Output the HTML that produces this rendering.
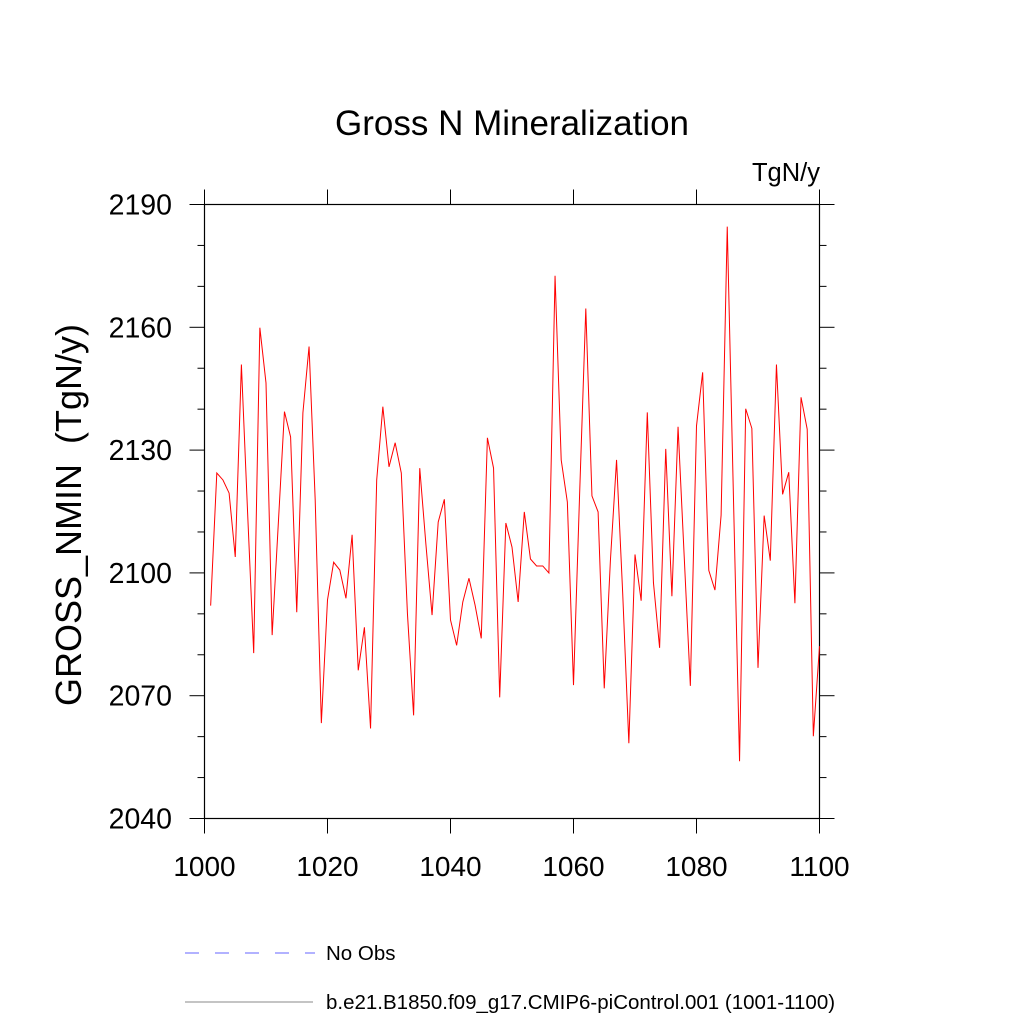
<!DOCTYPE html>
<html><head><meta charset="utf-8"><style>
body{margin:0;background:#fff;}
svg{display:block;font-family:"Liberation Sans",sans-serif;}
</style></head><body>
<svg id="chart" width="1024" height="1024">
<text x="512" y="135" font-size="35" text-anchor="middle">Gross N Mineralization</text>
<text x="820" y="181" font-size="25.5" text-anchor="end">TgN/y</text>
<text transform="translate(81,515) rotate(-90)" font-size="36" text-anchor="middle">GROSS_NMIN&#160;&#160;(TgN/y)</text>
<g id="axes"></g>
<g id="series"></g>
<line x1="185" y1="953" x2="315" y2="953" stroke="#6666ff" stroke-width="1" stroke-dasharray="14,16"/>
<text x="326" y="960" font-size="20.5">No Obs</text>
<line x1="185" y1="1002" x2="313" y2="1002" stroke="#888" stroke-width="1"/>
<text x="326" y="1009" font-size="20.5">b.e21.B1850.f09_g17.CMIP6-piControl.001 (1001-1100)</text>
</svg>
<script>
const years=[];for(let y=1001;y<=1100;y++)years.push(y);
const values=[2092,2124.4,2122.7,2119.5,2103.9,2150.9,2115,2080.4,2159.9,2146.4,
2084.8,2112,2139.4,2133.2,2090.4,2139.1,2155.3,2117.8,2063.3,2093.4,
2102.6,2100.7,2093.8,2109.3,2076.2,2086.7,2062,2122.7,2140.6,2125.9,
2131.8,2124.4,2090,2065.2,2125.6,2107,2089.7,2112.4,2118,2088.5,
2082.3,2092.9,2098.7,2092.1,2084,2133,2125.6,2069.6,2112.2,2106.3,
2092.9,2114.9,2103.4,2101.7,2101.7,2100,2172.6,2127.6,2117.3,2072.6,
2119.5,2164.6,2118.8,2114.9,2071.8,2103,2127.6,2095,2058.4,2104.5,
2093.2,2139.2,2097.6,2081.7,2130.3,2094.3,2135.7,2104,2072.4,2135.9,
2149,2100.6,2095.8,2114.1,2184.6,2119,2054,2140.1,2135.3,2076.8,
2114,2103,2150.9,2119.2,2124.6,2092.6,2142.9,2135.1,2060.1,2082.1];
const xTicks=[1000,1020,1040,1060,1080,1100];
const yTicks=[2040,2070,2100,2130,2160,2190];
const L=204.5,R=819.5,T=204.5,B=818.5;
const xs=v=>L+(v-1000)/100*(R-L);
const ys=v=>B-(v-2040)/150*(B-T);
const NS="http://www.w3.org/2000/svg";
const ax=document.getElementById('axes');
function mk(tag,attrs,parent){const e=document.createElementNS(NS,tag);for(const k in attrs)e.setAttribute(k,attrs[k]);parent.appendChild(e);return e;}
const frame=mk('rect',{x:L,y:T,width:R-L,height:B-T,fill:'none',stroke:'#000','stroke-width':1.2},ax);


for(let v=2040;v<=2190;v+=10){
  const y=ys(v);const len=(v-2040)%30===0?15:7;
  const t1=mk('line',{x1:L-len,y1:y,x2:L,y2:y,stroke:'#000','stroke-width':1},ax);
  
  
  const t2=mk('line',{x1:R,y1:y,x2:R+len,y2:y,stroke:'#000','stroke-width':1},ax);
  
  
}
yTicks.forEach(v=>{
  const t=mk('text',{x:172,y:ys(v)+10,'font-size':28.5,'text-anchor':'end'},ax);t.textContent=v;
  
  
});
xTicks.forEach(v=>{
  const x=xs(v);
  const a=mk('line',{x1:x,y1:B,x2:x,y2:B+15,stroke:'#000','stroke-width':1},ax);
  
  
  const b=mk('line',{x1:x,y1:T-15,x2:x,y2:T,stroke:'#000','stroke-width':1},ax);
  
  
  const t=mk('text',{x:x,y:876,'font-size':28,'text-anchor':'middle'},ax);t.textContent=v;
  
  
});
const pts=years.map((y,i)=>xs(y).toFixed(2)+','+ys(values[i]).toFixed(2)).join(' ');
const line=mk('polyline',{points:pts,fill:'none',stroke:'#ff0000','stroke-width':1},document.getElementById('series'));


</script>
</body></html>
